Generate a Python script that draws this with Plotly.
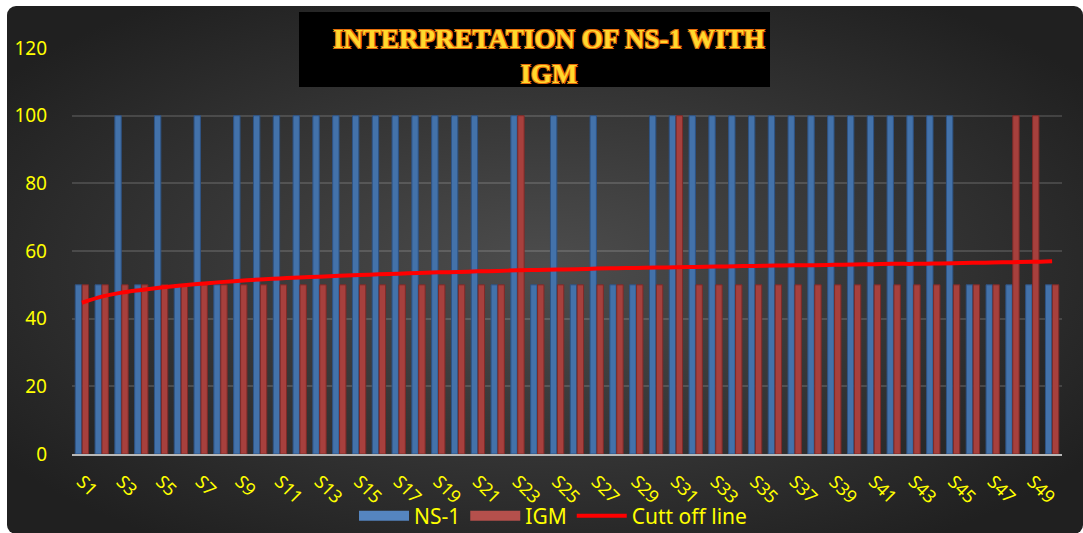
import base64
import plotly.graph_objects as go

categories = [f"S{i}" for i in range(1, 51)]

ns1 = [50, 50, 100, 50, 100, 50, 100, 50, 100, 100,
       100, 100, 100, 100, 100, 100, 100, 100, 100, 100,
       100, 50, 100, 50, 100, 50, 100, 50, 50, 100,
       100, 100, 100, 100, 100, 100, 100, 100, 100, 100,
       100, 100, 100, 100, 100, 50, 50, 50, 50, 50]

igm = [50, 50, 50, 50, 50, 50, 50, 50, 50, 50,
       50, 50, 50, 50, 50, 50, 50, 50, 50, 50,
       50, 50, 100, 50, 50, 50, 50, 50, 50, 50,
       100, 50, 50, 50, 50, 50, 50, 50, 50, 50,
       50, 50, 50, 50, 50, 50, 50, 100, 100, 50]

cutoff = [44.7, 46.5, 47.7, 48.5, 49.2, 49.8, 50.3, 50.8, 51.2, 51.6,
          51.9, 52.2, 52.4, 52.7, 52.9, 53.1, 53.3, 53.5, 53.7, 53.8,
          54.0, 54.1, 54.3, 54.4, 54.5, 54.6, 54.8, 54.9, 55.0, 55.1,
          55.2, 55.3, 55.4, 55.5, 55.6, 55.7, 55.8, 55.8, 55.9, 56.0,
          56.1, 56.2, 56.2, 56.3, 56.4, 56.5, 56.6, 56.7, 56.8, 57.0]

tick_labels = categories[::2]
y_ticks = [0, 20, 40, 60, 80, 100, 120]

YEL = "#FFFF00"
FONT = "Noto Sans"
BLUE, BLUE_EDGE = "#4372AA", "#2E5384"
RED, RED_EDGE = "#A7403D", "#7E2A28"

fig = go.Figure()
fig.add_trace(go.Bar(x=categories, y=ns1, name="NS-1", legendgroup="ns1", showlegend=False,
                     marker=dict(color=BLUE, line=dict(color=BLUE_EDGE, width=1))))
fig.add_trace(go.Bar(x=categories, y=igm, name="IGM", legendgroup="igm", showlegend=False,
                     marker=dict(color=RED, line=dict(color=RED_EDGE, width=1))))
# legend keys drawn as wide rectangles like the original
fig.add_trace(go.Scatter(x=[None], y=[None], name="NS-1", legendgroup="ns1", mode="lines",
                         line=dict(color="#5585C0", width=10)))
fig.add_trace(go.Scatter(x=[None], y=[None], name="IGM", legendgroup="igm", mode="lines",
                         line=dict(color="#B5504C", width=10)))
fig.add_trace(go.Scatter(x=categories, y=cutoff, name="Cutt off line", mode="lines",
                         line=dict(color="#FF0000", width=4, shape="spline")))

# background panel with radial gradient
svg = ("<svg xmlns='http://www.w3.org/2000/svg' width='1076' height='528' viewBox='0 0 1076 528' "
       "preserveAspectRatio='none'><defs><radialGradient id='g' cx='50%' cy='50%' r='62%'>"
       "<stop offset='0%' stop-color='#4d4d4d'/><stop offset='100%' stop-color='#202020'/>"
       "</radialGradient></defs><rect x='0' y='0' width='1076' height='528' rx='9' fill='url(#g)'/></svg>")
src = "data:image/svg+xml;base64," + base64.b64encode(svg.encode()).decode()

# layout is designed in reference pixels; K stretches the vertical dimension
H = 548
K = H / 533.0
PW, PH, L, B = 990.0, 406.0, 72.0, 453.0
def px(x):
    return (x - L) / PW
def py(y):
    return (B - y) / PH

fig.add_layout_image(dict(source=src, xref="paper", yref="paper",
                          x=px(7), y=py(5), sizex=1076 / PW, sizey=528 / PH,
                          xanchor="left", yanchor="top", sizing="stretch", layer="below"))

fig.add_shape(type="rect", xref="paper", yref="paper",
              x0=px(299), x1=px(770), y0=py(86), y1=py(11),
              fillcolor="#000000", line=dict(width=0), layer="above")

fig.add_annotation(xref="paper", yref="paper", x=px(549), y=py(55.5),
                   text="INTERPRETATION OF NS-1 WITH<br>IGM", showarrow=False,
                   xanchor="center", yanchor="middle",
                   font=dict(family="Liberation Serif", size=27, color="#FFD92E", weight="bold",
                             shadow="-1px -1px 0 #E46C0A, 1px -1px 0 #E46C0A, -1px 1px 0 #E46C0A, 1px 1px 0 #E46C0A"))

fig.update_layout(
    width=1083, height=H,
    margin=dict(l=72, r=21, t=47 * K, b=(533 - 453) * K),
    paper_bgcolor="#FFFFFF",
    plot_bgcolor="rgba(0,0,0,0)",
    barmode="group", bargap=0.3, bargroupgap=0.08,
    showlegend=True,
    legend=dict(orientation="h", x=px(553), xanchor="center", y=py(515), yanchor="middle",
                font=dict(family=FONT, size=21, color=YEL), bgcolor="rgba(0,0,0,0)",
                itemwidth=50, traceorder="normal"),
    xaxis=dict(type="category", tickmode="array", tickvals=tick_labels, ticktext=tick_labels,
               tickangle=45, showgrid=False, showline=True, linecolor="#B8B8B8", linewidth=2,
               ticks="", tickfont=dict(family=FONT, size=18, color=YEL),
               ticklabelstandoff=8, automargin=False),
    yaxis=dict(range=[0, 120], tickvals=y_ticks, showgrid=True,
               gridcolor="rgba(255,255,255,0.14)", gridwidth=1.5, zeroline=False,
               showline=False, ticks="", tickfont=dict(family=FONT, size=19, color=YEL),
               ticklabelstandoff=24, automargin=False),
)

fig.write_html("out.html",
               config={"responsive": False, "displayModeBar": False},
               post_script="document.body.style.margin='0px';document.body.style.overflow='hidden';")
